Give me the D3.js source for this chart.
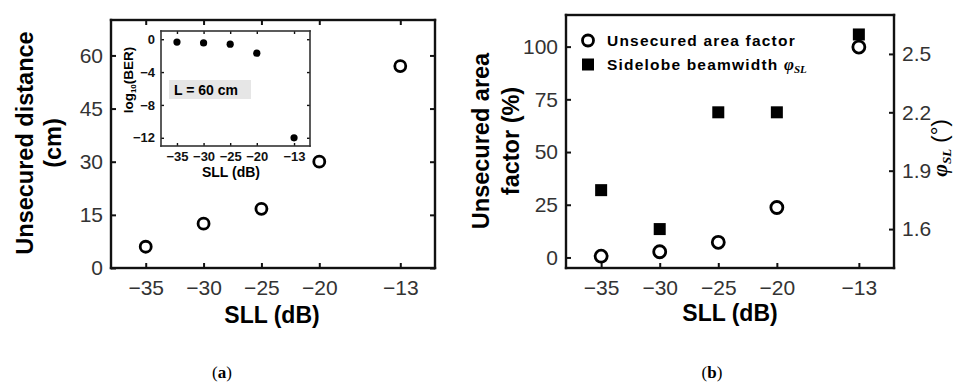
<!DOCTYPE html>
<html>
<head>
<meta charset="utf-8">
<script src="https://cdn.jsdelivr.net/npm/d3@7"></script>
<style>
  body { margin: 0; background: #fff; }
  svg { display: block; font-family: "Liberation Sans", Arial, sans-serif; }
  .tick text { fill: #333; }
</style>
</head>
<body>
<svg id="chart" width="955" height="385"></svg>
<script>
// shared categories
const sll = [-35, -30, -25, -20, -13];

// panel (a)
const distance = [6, 12.5, 16.7, 30, 57];
const distTicks = [0, 15, 30, 45, 60];

// inset of (a)
const logBer = [-0.35, -0.45, -0.6, -1.7, -12];
const berTicks = [0, -4, -8, -12];

// panel (b)
const areaFactor = [0.6, 2.7, 7.2, 23.7, 99.8];
const areaTicks = [0, 25, 50, 75, 100];
const beamwidth = [1.8, 1.6, 2.2, 2.2, 2.6];
const beamTicks = [1.6, 1.9, 2.2, 2.5];

const svg = d3.select("#chart");
const minus = d => String(d).replace("-", "\u2212");

// frame made of four filled bars
function box(g, x, y, w, col) {
  const [x0, x1] = x.range(), [y0, y1] = y.range();
  w = w || 2.4; col = col || "#111";
  const h = w / 2;
  const bars = [
    [x0 - h, y1 - h, x1 - x0 + w, w],
    [x0 - h, y0 - h, x1 - x0 + w, w],
    [x0 - h, y1 - h, w, y0 - y1 + w],
    [x1 - h, y1 - h, w, y0 - y1 + w]
  ];
  g.selectAll(null).data(bars).join("rect")
    .attr("x", d => d[0]).attr("y", d => d[1])
    .attr("width", d => d[2]).attr("height", d => d[3])
    .attr("fill", col);
}

// swap each tick line for a small filled bar
function styleAxis(sel, size, w) {
  w = w || 2;
  sel.select(".domain").remove();
  sel.selectAll(".tick").each(function () {
    const t = d3.select(this), ln = t.select("line");
    const x2 = +ln.attr("x2") || 0, y2 = +ln.attr("y2") || 0;
    ln.remove();
    t.insert("rect", "text")
      .attr("x", x2 ? Math.min(0, x2) : -w / 2)
      .attr("y", y2 ? Math.min(0, y2) : -w / 2)
      .attr("width", x2 ? Math.abs(x2) : w)
      .attr("height", y2 ? Math.abs(y2) : w)
      .attr("fill", "#111");
  });
  sel.selectAll(".tick text").attr("font-size", size);
}

// ---------- panel (a) ----------
const xa = d3.scaleLinear().domain([-38, -10]).range([111, 435]);
const ya = d3.scaleLinear().domain([0, 70]).range([268, 20]);

const ga = svg.append("g");
ga.append("g").attr("transform", "translate(0,268)")
  .call(d3.axisBottom(xa).tickValues(sll).tickSizeInner(-5).tickSizeOuter(0).tickPadding(12).tickFormat(minus))
  .call(s => styleAxis(s, 21));
ga.append("g").attr("transform", "translate(0,20)")
  .call(d3.axisTop(xa).tickValues(sll).tickSizeInner(-5).tickSizeOuter(0).tickFormat(""))
  .call(s => styleAxis(s, 21));
ga.append("g").attr("transform", "translate(111,0)")
  .call(d3.axisLeft(ya).tickValues(distTicks).tickSizeInner(-5).tickSizeOuter(0).tickPadding(8))
  .call(s => styleAxis(s, 21));
ga.append("g").attr("transform", "translate(435,0)")
  .call(d3.axisRight(ya).tickValues(distTicks).tickSizeInner(-5).tickSizeOuter(0).tickFormat(""))
  .call(s => styleAxis(s, 21));
box(ga, xa, ya);

ga.selectAll("circle.pt").data(sll).join("circle")
  .attr("class", "pt")
  .attr("cx", d => xa(d))
  .attr("cy", (d, i) => ya(distance[i]))
  .attr("r", 5.5)
  .attr("fill", "none").attr("stroke", "#000").attr("stroke-width", 2.8);

ga.append("text").attr("x", 272).attr("y", 323).attr("text-anchor", "middle")
  .attr("font-size", 23).attr("font-weight", "bold").text("SLL (dB)");
ga.append("text").attr("transform", "translate(33,143) rotate(-90)").attr("text-anchor", "middle")
  .attr("font-size", 23.5).attr("font-weight", "bold").text("Unsecured distance");
ga.append("text").attr("transform", "translate(61,143) rotate(-90)").attr("text-anchor", "middle")
  .attr("font-size", 23.5).attr("font-weight", "bold").text("(cm)");

// inset
const xi = d3.scaleLinear().domain([-38, -10]).range([161, 310]);
const yi = d3.scaleLinear().domain([-13, 1]).range([146, 31]);
const gi = svg.append("g");
gi.append("rect").attr("x", 161).attr("y", 31).attr("width", 149).attr("height", 115).attr("fill", "#fff");
gi.append("g").attr("transform", "translate(0,146)")
  .call(d3.axisBottom(xi).tickValues(sll).tickSizeInner(-3).tickSizeOuter(0).tickPadding(6).tickFormat(minus))
  .call(s => styleAxis(s, 13, 1.4))
  .call(s => s.selectAll(".tick text").attr("font-weight", "bold").style("fill", "#111"));
gi.append("g").attr("transform", "translate(0,31)")
  .call(d3.axisTop(xi).tickValues(sll).tickSizeInner(-3).tickSizeOuter(0).tickFormat(""))
  .call(s => styleAxis(s, 12, 1.4));
gi.append("g").attr("transform", "translate(161,0)")
  .call(d3.axisLeft(yi).tickValues(berTicks).tickSizeInner(-3).tickSizeOuter(0).tickPadding(6).tickFormat(minus))
  .call(s => styleAxis(s, 13, 1.4))
  .call(s => s.selectAll(".tick text").attr("font-weight", "bold").style("fill", "#111"));
gi.append("g").attr("transform", "translate(310,0)")
  .call(d3.axisRight(yi).tickValues(berTicks).tickSizeInner(-3).tickSizeOuter(0).tickFormat(""))
  .call(s => styleAxis(s, 12, 1.4));
box(gi, xi, yi, 1.6, "#333");

gi.selectAll("circle.ber").data(sll).join("circle")
  .attr("class", "ber")
  .attr("cx", d => xi(d))
  .attr("cy", (d, i) => yi(logBer[i]))
  .attr("r", 3.6).attr("fill", "#000");

gi.append("rect").attr("x", 169).attr("y", 80).attr("width", 82).attr("height", 19).attr("fill", "#e6e6e6");
gi.append("text").attr("x", 174).attr("y", 95).attr("font-size", 14).attr("font-weight", "bold").text("L = 60 cm");
gi.append("text").attr("x", 231).attr("y", 177).attr("text-anchor", "middle")
  .attr("font-size", 14).attr("font-weight", "bold").text("SLL (dB)");
const yl = gi.append("text").attr("transform", "translate(133,80) rotate(-90)").attr("text-anchor", "middle")
  .attr("font-size", 13.5).attr("font-weight", "bold");
yl.append("tspan").text("log");
yl.append("tspan").attr("font-size", 8).attr("dy", 3).text("10");
yl.append("tspan").attr("dy", -3).text("(BER)");

// ---------- panel (b) ----------
const xb = d3.scaleLinear().domain([-38, -10]).range([566, 894]);
const yb = d3.scaleLinear().domain([-5, 115]).range([268, 15]);
const yr = d3.scaleLinear().domain([1.4, 2.7]).range([268, 15]);

const gb = svg.append("g");
gb.append("g").attr("transform", "translate(0,268)")
  .call(d3.axisBottom(xb).tickValues(sll).tickSizeInner(-5).tickSizeOuter(0).tickPadding(12).tickFormat(minus))
  .call(s => styleAxis(s, 21));
gb.append("g").attr("transform", "translate(566,0)")
  .call(d3.axisLeft(yb).tickValues(areaTicks).tickSizeInner(-5).tickSizeOuter(0).tickPadding(8))
  .call(s => styleAxis(s, 21));
gb.append("g").attr("transform", "translate(894,0)")
  .call(d3.axisRight(yr).tickValues(beamTicks).tickSizeInner(-5).tickSizeOuter(0).tickPadding(8).tickFormat(d3.format(".1f")))
  .call(s => styleAxis(s, 21));
box(gb, xb, yb);

gb.selectAll("rect.sq").data(sll).join("rect")
  .attr("class", "sq")
  .attr("x", d => xb(d) - 6)
  .attr("y", (d, i) => yr(beamwidth[i]) - 6)
  .attr("width", 12).attr("height", 12).attr("fill", "#000");
gb.selectAll("circle.pt").data(sll).join("circle")
  .attr("class", "pt")
  .attr("cx", d => xb(d))
  .attr("cy", (d, i) => yb(areaFactor[i]))
  .attr("r", 6)
  .attr("fill", "none").attr("stroke", "#000").attr("stroke-width", 2.8);

// legend
gb.append("circle").attr("cx", 588).attr("cy", 40.5).attr("r", 5.5)
  .attr("fill", "none").attr("stroke", "#000").attr("stroke-width", 2.8);
gb.append("rect").attr("x", 582).attr("y", 58.5).attr("width", 12).attr("height", 12).attr("fill", "#000");
gb.append("text").attr("x", 607).attr("y", 46).attr("font-size", 15.5).attr("font-weight", "bold")
  .attr("letter-spacing", 1.2).text("Unsecured area factor");
const lg = gb.append("text").attr("x", 607).attr("y", 70).attr("font-size", 15.5).attr("font-weight", "bold")
  .attr("letter-spacing", 1.2);
lg.append("tspan").text("Sidelobe beamwidth ");
lg.append("tspan").attr("font-family", "Liberation Serif, serif").attr("font-style", "italic")
  .attr("font-size", 17).attr("letter-spacing", 0).text("φ");
lg.append("tspan").attr("font-family", "Liberation Serif, serif").attr("font-style", "italic")
  .attr("font-size", 11).attr("dy", 3).attr("letter-spacing", 0).text("SL");

gb.append("text").attr("x", 730).attr("y", 321).attr("text-anchor", "middle")
  .attr("font-size", 23).attr("font-weight", "bold").text("SLL (dB)");
gb.append("text").attr("transform", "translate(489,141) rotate(-90)").attr("text-anchor", "middle")
  .attr("font-size", 23.5).attr("font-weight", "bold").text("Unsecured area");
gb.append("text").attr("transform", "translate(519,141) rotate(-90)").attr("text-anchor", "middle")
  .attr("font-size", 23.5).attr("font-weight", "bold").text("factor (%)");
const rl = gb.append("text").attr("transform", "translate(947,148) rotate(-90)").attr("text-anchor", "middle")
  .attr("font-size", 22).attr("font-weight", "bold");
rl.append("tspan").attr("font-family", "Liberation Serif, serif").attr("font-style", "italic").text("φ");
rl.append("tspan").attr("font-family", "Liberation Serif, serif").attr("font-style", "italic")
  .attr("font-size", 13).attr("dy", 4).text("SL");
rl.append("tspan").attr("dy", -4).attr("font-weight", "normal").text(" (°)");

// captions
svg.append("text").attr("x", 222).attr("y", 378).attr("text-anchor", "middle")
  .attr("font-family", "Liberation Serif, serif").attr("font-size", 17)
  .html("(<tspan font-weight='bold'>a</tspan>)");
svg.append("text").attr("x", 712).attr("y", 378).attr("text-anchor", "middle")
  .attr("font-family", "Liberation Serif, serif").attr("font-size", 17)
  .html("(<tspan font-weight='bold'>b</tspan>)");
</script>
</body>
</html>
